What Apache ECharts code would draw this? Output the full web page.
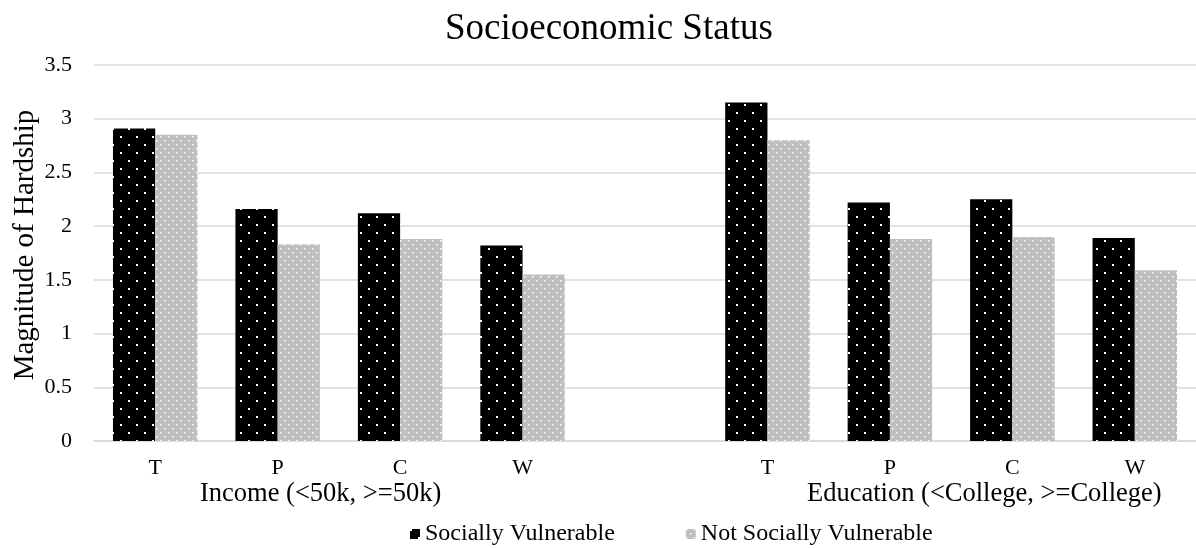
<!DOCTYPE html>
<html>
<head>
<meta charset="utf-8">
<script src="https://cdn.jsdelivr.net/npm/echarts@6/dist/echarts.min.js"></script>
<style>
  html, body { margin: 0; padding: 0; background: #fff; }
  #chart { width: 1196px; height: 548px; }
</style>
</head>
<body>
<div id="chart"></div>
<script>
// Hardship scores by group; the empty slot separates Income from Education
const categories = ['T', 'P', 'C', 'W', '', 'T', 'P', 'C', 'W'];
const sociallyVulnerable = [2.91, 2.16, 2.12, 1.82, null, 3.15, 2.22, 2.25, 1.89];
const notSociallyVulnerable = [2.85, 1.83, 1.88, 1.55, null, 2.80, 1.88, 1.90, 1.59];
const seriesNames = ['Socially Vulnerable', 'Not Socially Vulnerable'];
const groupLabels = ['Income (<50k, >=50k)', 'Education (<College, >=College)'];
const yAxisTitle = 'Magnitude of Hardship';
const yTicks = { min: 0, max: 3.5, interval: 0.5 };

const FONT = '"Liberation Serif", "Times New Roman", serif';

// Dotted fill: two dots per tile in a staggered lattice
function dotPattern(bg, dotColor, step, dot) {
  const c = document.createElement('canvas');
  c.width = step; c.height = step;
  const g = c.getContext('2d');
  g.fillStyle = bg;
  g.fillRect(0, 0, step, step);
  g.fillStyle = dotColor;
  g.fillRect(0, 0, dot, dot);
  g.fillRect(step / 2, step / 2, dot, dot);
  return { image: c, repeat: 'repeat' };
}

const blackFill = dotPattern('#000000', '#ffffff', 16, 2);
const greyFill = dotPattern('#bfbfbf', '#ffffff', 8, 1.5);

const chart = echarts.init(document.getElementById('chart'), null, { renderer: 'canvas' });

chart.setOption({
  animation: false,
  backgroundColor: '#ffffff',
  title: {
    text: 'Socioeconomic Status',
    left: 440,
    top: 6,
    textStyle: { fontFamily: FONT, fontSize: 37, fontWeight: 'normal', color: '#000' }
  },
  legend: {
    data: seriesNames,
    left: 410,
    bottom: 2,
    padding: 0,
    itemWidth: 10,
    itemHeight: 10,
    itemGap: 71,
    icon: 'rect',
    textStyle: { fontFamily: FONT, fontSize: 24, color: '#000' }
  },
  grid: { left: 94, right: -7, top: 65, bottom: 107, containLabel: false },
  xAxis: {
    type: 'category',
    data: categories,
    axisLine: { lineStyle: { color: '#d9d9d9', width: 1.5 } },
    axisTick: { show: false },
    axisLabel: { fontFamily: FONT, fontSize: 22, color: '#000', margin: 16, interval: 0 }
  },
  yAxis: {
    type: 'value',
    min: yTicks.min,
    max: yTicks.max,
    interval: yTicks.interval,
    axisLine: { show: false },
    axisTick: { show: false },
    axisLabel: { fontFamily: FONT, fontSize: 22, color: '#000', margin: 22 },
    splitLine: { lineStyle: { color: '#d9d9d9', width: 1.5 } }
  },
  graphic: [
    { type: 'text', x: 25, y: 245, rotation: Math.PI / 2,
      style: { text: yAxisTitle, font: '29px ' + FONT, fill: '#000',
               align: 'center', verticalAlign: 'middle' } },
    { type: 'text', x: 200, y: 494,
      style: { text: groupLabels[0], font: '26.5px ' + FONT, fill: '#000',
               align: 'left', verticalAlign: 'middle' } },
    { type: 'text', x: 807, y: 494,
      style: { text: groupLabels[1], font: '26.5px ' + FONT, fill: '#000',
               align: 'left', verticalAlign: 'middle' } }
  ],
  series: [
    {
      name: seriesNames[0],
      type: 'bar',
      data: sociallyVulnerable,
      barGap: '0%',
      barCategoryGap: '31%',
      itemStyle: { color: blackFill }
    },
    {
      name: seriesNames[1],
      type: 'bar',
      data: notSociallyVulnerable,
      itemStyle: { color: greyFill }
    }
  ]
});
</script>
</body>
</html>
